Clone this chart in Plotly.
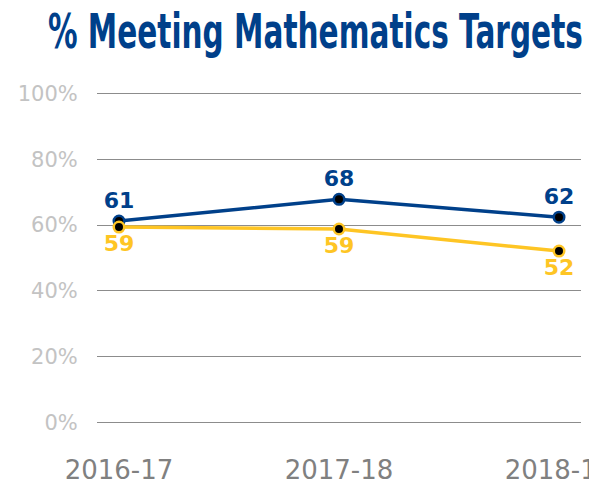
import plotly.graph_objects as go

years = ["2016-17", "2017-18", "2018-19"]
school = [61.2, 67.8, 62.4]
district = [59.4, 58.8, 52.1]
yticks = [0, 20, 40, 60, 80, 100]
ytick_labels = ["0%", "20%", "40%", "60%", "80%", "100%"]

BLUE = "#00408a"
GOLD = "#fec524"

L, R, T, B = 97, 8, 89.7, 58.7

fig = go.Figure()
fig.add_trace(go.Scatter(
    x=years, y=school, mode="lines+markers+text",
    line=dict(color=BLUE, width=3.5),
    marker=dict(color="black", size=10.5, line=dict(color=BLUE, width=2.5)),
    texttemplate="%{y:.0f}", textposition="top center",
    textfont=dict(family="DejaVu Sans", size=22, color=BLUE, weight="bold"),
    cliponaxis=False, showlegend=False,
))
fig.add_trace(go.Scatter(
    x=years, y=district, mode="lines+markers+text",
    line=dict(color=GOLD, width=3.5),
    marker=dict(color="black", size=10.5, line=dict(color=GOLD, width=2.5)),
    texttemplate="%{y:.0f}", textposition="bottom center",
    textfont=dict(family="DejaVu Sans", size=22, color=GOLD, weight="bold"),
    cliponaxis=False, showlegend=False,
))

fig.update_layout(
    width=589, height=485,
    margin=dict(l=L, r=R, t=T, b=B, autoexpand=False),
    plot_bgcolor="white", paper_bgcolor="white",
    annotations=[dict(
        text="% Meeting Mathematics Targets", xref="paper", yref="paper",
        x=(315.5 - L) / (589 - L - R), y=1, yshift=T - 31, xanchor="center", yanchor="middle",
        showarrow=False,
        font=dict(family="DejaVu Sans", size=48, color=BLUE, weight="bold"),
    )],
)
fig.update_xaxes(
    range=[-0.1, 2.1], showgrid=False, zeroline=False, showline=False,
    automargin=False,
    ticks="outside", ticklen=21, tickcolor="rgba(0,0,0,0)",
    tickfont=dict(family="DejaVu Sans", size=26, color="#808080"),
)
fig.update_yaxes(
    range=[-1, 101], tickvals=yticks, ticktext=ytick_labels,
    automargin=False,
    showgrid=True, gridcolor="#8c8c8c", gridwidth=1, zeroline=False, showline=False,
    ticks="outside", ticklen=14, tickcolor="rgba(0,0,0,0)",
    tickfont=dict(family="DejaVu Sans", size=21, color="#c3c3c3"),
)

post = """
document.body.style.margin = '0';
document.body.style.overflow = 'hidden';
var t = document.querySelector('.annotation-text');
if (t) {
  var b = t.getBBox();
  var s = 535 / b.width;
  var cx = b.x + b.width / 2;
  t.setAttribute('transform', 'translate(' + cx + ',0) scale(' + s + ',1) translate(' + (-cx) + ',0)');
}
"""

fig.write_html("out.html", post_script=post, config={"displayModeBar": False})
